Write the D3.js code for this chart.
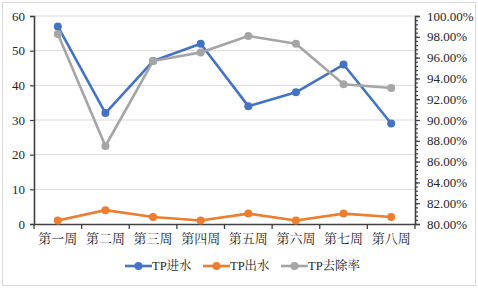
<!DOCTYPE html>
<html>
<head>
<meta charset="utf-8">
<script src="https://cdn.jsdelivr.net/npm/d3@7"></script>
<style>
  body { margin: 0; background: #fff; }
</style>
</head>
<body>
<div id="chart"></div>
<script>
const weeks = ["第一周", "第二周", "第三周", "第四周", "第五周", "第六周", "第七周", "第八周"];
const tpIn = [57, 32, 47, 52, 34, 38, 46, 29];
const tpOut = [1, 4, 2, 1, 3, 1, 3, 2];
const tpRemoval = [98.27, 87.5, 95.67, 96.5, 98.08, 97.34, 93.43, 93.08];
const leftTicks = [0, 10, 20, 30, 40, 50, 60];
const rightTicks = [80, 82, 84, 86, 88, 90, 92, 94, 96, 98, 100];

const FONT = "'Liberation Serif', 'Noto Serif CJK SC', serif";
const W = 478, H = 288;
const margin = { top: 16, right: 63, bottom: 64, left: 34 };
const width = W - margin.left - margin.right;
const height = H - margin.top - margin.bottom;

const svg = d3.select("#chart").append("svg")
    .attr("width", W).attr("height", H)
    .attr("font-family", FONT);

svg.append("rect")
    .attr("x", 2.5).attr("y", 2.5)
    .attr("width", W - 5).attr("height", H - 5)
    .attr("fill", "#fff").attr("stroke", "#d9d9d9");

const g = svg.append("g").attr("transform", `translate(${margin.left},${margin.top})`);

const x = d3.scaleBand().domain(weeks).range([0, width]);
const y = d3.scaleLinear().domain([0, 60]).range([height, 0]);
const y2 = d3.scaleLinear().domain([80, 100]).range([height, 0]);
const cx = d => x(d) + x.bandwidth() / 2;

// gridlines
g.selectAll(".grid").data(leftTicks.slice(1))
    .join("line").attr("class", "grid")
    .attr("x1", 0).attr("x2", width)
    .attr("y1", d => y(d)).attr("y2", d => y(d))
    .attr("stroke", "#d9d9d9").attr("stroke-width", 1);

// left axis
const yAxisG = g.append("g").call(d3.axisLeft(y).tickValues(leftTicks).tickSize(4).tickPadding(5));
yAxisG.selectAll("text").attr("font-size", 13);

// right axis with minor ticks
const minor = d3.range(80, 100.01, 0.4);
const y2Minor = g.append("g").attr("transform", `translate(${width},0)`)
    .call(d3.axisRight(y2).tickValues(minor).tickSize(3).tickFormat(""));
y2Minor.select(".domain").remove();
const y2AxisG = g.append("g").attr("transform", `translate(${width},0)`)
    .call(d3.axisRight(y2).tickValues(rightTicks).tickSize(5).tickPadding(7)
        .tickFormat(d => d.toFixed(2) + "%"));
y2AxisG.selectAll("text").attr("font-size", 13);

// bottom axis, ticks between categories
const xAxisG = g.append("g").attr("transform", `translate(0,${height})`)
    .call(d3.axisBottom(x).tickSize(0).tickPadding(10));
xAxisG.selectAll("text").attr("font-size", 13);
g.append("g").attr("transform", `translate(0,${height})`)
    .selectAll("line").data(d3.range(weeks.length + 1))
    .join("line")
    .attr("x1", i => i * x.bandwidth()).attr("x2", i => i * x.bandwidth())
    .attr("y1", 0).attr("y2", 5)
    .attr("stroke", "#404040").attr("stroke-width", 1.3);

g.selectAll(".domain").attr("stroke", "#404040").attr("stroke-width", 1.6);
g.selectAll(".tick line").attr("stroke", "#404040").attr("stroke-width", 1.2);
svg.selectAll("g").attr("font-family", FONT);

const series = [
    { name: "TP进水", values: tpIn, scale: y, color: "#4472C4" },
    { name: "TP出水", values: tpOut, scale: y, color: "#ED7D31" },
    { name: "TP去除率", values: tpRemoval, scale: y2, color: "#A5A5A5" }
];

series.forEach(s => {
    const line = d3.line().x((d, i) => cx(weeks[i])).y(d => s.scale(d));
    g.append("path").datum(s.values)
        .attr("d", line).attr("fill", "none")
        .attr("stroke", s.color).attr("stroke-width", 2.6)
        .attr("stroke-linejoin", "round");
    g.selectAll(null).data(s.values).join("circle")
        .attr("cx", (d, i) => cx(weeks[i])).attr("cy", d => s.scale(d))
        .attr("r", 4).attr("fill", s.color);
});

// legend
const legendX = [125, 203, 281];
const legend = svg.append("g").attr("transform", "translate(0,266)");
series.forEach((s, i) => {
    const lg = legend.append("g").attr("transform", `translate(${legendX[i]},0)`);
    lg.append("line").attr("x1", 0).attr("x2", 27).attr("y1", 0).attr("y2", 0)
        .attr("stroke", s.color).attr("stroke-width", 2.6);
    lg.append("circle").attr("cx", 13.5).attr("cy", 0).attr("r", 4).attr("fill", s.color);
    lg.append("text").attr("x", 27).attr("y", 0).attr("dy", "0.35em")
        .attr("font-size", 12.5).attr("font-family", FONT).text(s.name);
});

svg.selectAll("text").attr("fill", "#262626");
</script>
</body>
</html>
